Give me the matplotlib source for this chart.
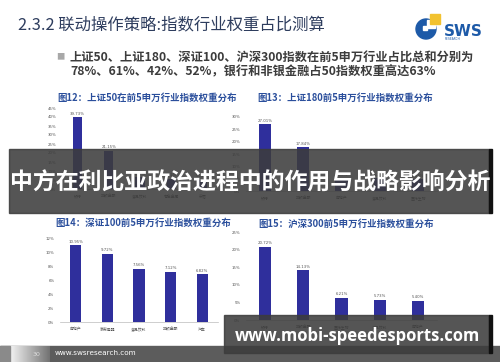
import numpy as np
import matplotlib
matplotlib.use("Agg")
import matplotlib.pyplot as plt
from matplotlib.patches import Rectangle, Circle

plt.rcParams['font.family'] = ['Noto Sans CJK SC', 'DejaVu Sans']

# data
cats12 = ['银行', '非银金融', '食品饮料', '有色金属', '采掘']
vals12 = [39.73, 21.15, 6.57, 5.51, 5.04]
cats13 = ['银行', '非银金融', '房地产', '食品饮料', '医药生物']
vals13 = [27.01, 17.84, 5.10, 5.22, 4.83]
cats14 = ['房地产', '家用电器', '食品饮料', '非银金融', '汽车']
vals14 = [10.95, 9.72, 7.56, 7.12, 6.82]
cats15 = ['银行', '非银金融', '医药生物', '食品饮料', '房地产']
vals15 = [20.72, 14.13, 6.21, 5.73, 5.40]

W, H = 500, 362
BAR = '#2f2f9c'


def box(x0, y0, x1, y1):
    return [x0 / W, 1 - y1 / H, (x1 - x0) / W, (y1 - y0) / H]


def ftext(x, y, s, **kw):
    fig.text(x / W, 1 - y / H, s, **kw)


fig = plt.figure(figsize=(5, 3.62), dpi=100, facecolor='white')

# background layer in pixel coords
bg = fig.add_axes([0, 0, 1, 1], zorder=0)
bg.set_xlim(0, W)
bg.set_ylim(H, 0)
bg.axis('off')

# logo
bg.add_patch(Circle((426, 29), 10, color='#1d5aa8'))
bg.add_patch(Rectangle((427, 20), 8, 8, color='white'))
bg.add_patch(Rectangle((430, 14), 10, 10, color='#f2c230'))
bg.add_patch(Rectangle((423, 26), 4, 4, color='white'))
bg.text(444, 31, 'SWS', fontsize=11, fontweight='bold', color='#1d5aa8',
        family='DejaVu Sans', va='center', ha='left')
bg.text(445, 38.5, 'RESEARCH', fontsize=2.2, color='#1d5aa8',
        family='DejaVu Sans', va='center', ha='left')

# footer
bg.add_patch(Rectangle((0, 346), W, 16, color='#5c5c5c'))
grad = np.linspace(0.95, 0.45, 60).reshape(1, -1)
bg.imshow(grad, extent=(10, 50, 362, 346), cmap='gray', vmin=0, vmax=1,
          aspect='auto', zorder=2)
bg.add_patch(Rectangle((0, 346), 10, 16, color='#8a8a8a', zorder=2))
bg.text(36, 354, '30', fontsize=4.5, color='#dddddd', va='center',
        ha='center', zorder=3, family='DejaVu Sans')
bg.text(55, 353, 'www.swsresearch.com', fontsize=5.2, color='white',
        va='center', ha='left', zorder=3, family='DejaVu Sans')
bg.set_xlim(0, W)
bg.set_ylim(H, 0)

# headings
ftext(18, 25, '2.3.2 联动操作策略:指数行业权重占比测算', fontsize=11.8,
      color='#2e3d5e', va='center', ha='left')
ftext(56, 57, '■', fontsize=6, color='#a8a8a8', va='center', ha='left')
ftext(70, 57, '上证50、上证180、深证100、沪深300指数在前5申万行业占比总和分别为',
      fontsize=8.8, fontweight='bold', color='#3c3c3c', va='center', ha='left')
ftext(70, 72, '78%、61%、42%、52%，银行和非银金融占50指数权重高达63%',
      fontsize=8.8, fontweight='bold', color='#3c3c3c', va='center', ha='left')


def chart(rect, cats, vals, ymax, step, width, title, tpos):
    ax = fig.add_axes(box(*rect), zorder=1)
    ax.patch.set_alpha(0)
    x = np.arange(len(cats))
    ax.bar(x, vals, width=width, color=BAR)
    for xi, v in zip(x, vals):
        ax.text(xi, v + ymax * 0.02, '%.2f%%' % v, fontsize=2.8, color='#555555',
                ha='center', va='bottom', family='DejaVu Sans')
    ax.set_xlim(-0.5, len(cats) - 0.5)
    ax.set_ylim(0, ymax)
    ticks = np.arange(0, ymax + 0.01, step)
    ax.set_yticks(ticks)
    ax.set_yticklabels(['%d%%' % t for t in ticks], family='DejaVu Sans')
    ax.set_xticks(x)
    ax.set_xticklabels(cats)
    ax.tick_params(length=0, labelsize=2.8, labelcolor='#555555', pad=4)
    for s in ['top', 'right', 'left']:
        ax.spines[s].set_visible(False)
    ax.spines['bottom'].set_color('#bbbbbb')
    ax.spines['bottom'].set_linewidth(0.5)
    ftext(tpos[0], tpos[1], title, fontsize=6.8, fontweight='bold',
          color='#2b4f9c', va='center', ha='left')
    return ax


chart((62, 108, 218, 189), cats12, vals12, 45, 5, 0.3,
      '图12：上证50在前5申万行业指数权重分布', (57, 98))
chart((246, 117, 437, 191), cats13, vals13, 30, 5, 0.32,
      '图13：上证180前5申万行业指数权重分布', (257, 98))
chart((60, 238, 218, 322), cats14, vals14, 12, 2, 0.35,
      '图14：深证100前5申万行业指数权重分布', (55, 223))
chart((246, 232, 437, 320), cats15, vals15, 25, 5, 0.32,
      '图15：沪深300前5申万行业指数权重分布', (258, 224))

# overlay layer: banner and watermark
ov = fig.add_axes([0, 0, 1, 1], zorder=5)
ov.patch.set_alpha(0)
ov.set_xlim(0, W)
ov.set_ylim(H, 0)
ov.axis('off')
ov.add_patch(Rectangle((9, 149), 480, 64, color='#3c3c3c', alpha=0.87))
ov.add_patch(Rectangle((489, 149), 3, 64, color='#111111'))
ov.text(250, 183, '中方在利比亚政治进程中的作用与战略影响分析', fontsize=16.5,
        fontweight='bold', color='white', ha='center', va='center')
ov.add_patch(Rectangle((224, 315), 265, 38, color='#3c3c3c', alpha=0.87))
ov.add_patch(Rectangle((489, 315), 3, 38, color='#111111'))
ov.text(357, 336, 'www.mobi-speedesports.com', fontsize=12, fontweight='bold',
        color='white', ha='center', va='center', family='Open Sans')

plt.savefig('out.png', dpi=100)
